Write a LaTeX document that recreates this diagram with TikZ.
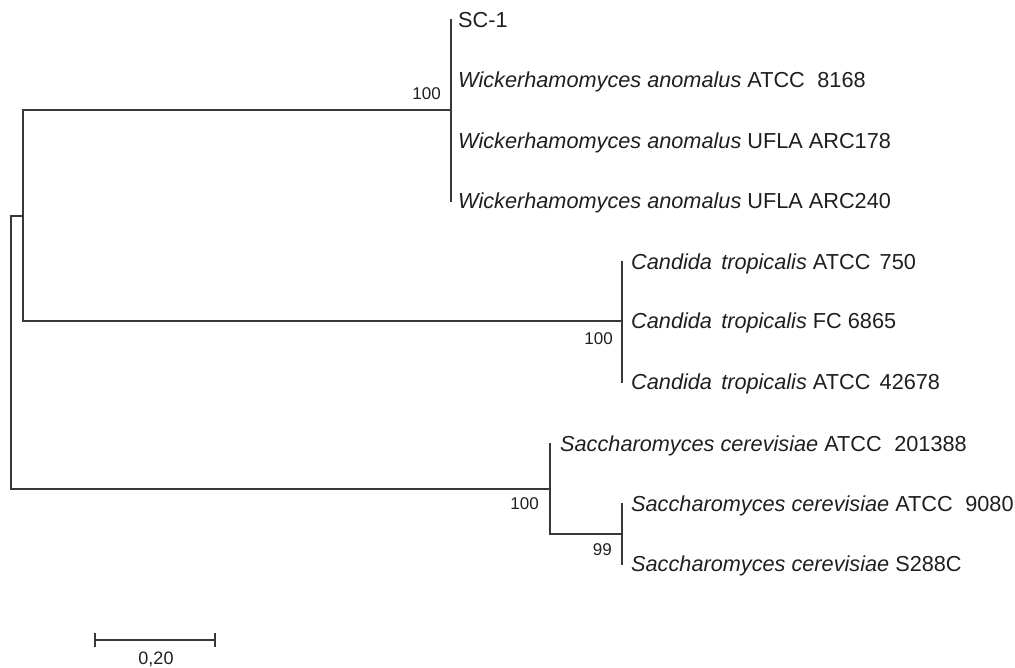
\documentclass[tikz,border=0pt]{standalone}
\usepackage{fontspec}
\setmainfont{Liberation Sans}
\begin{document}
\begin{tikzpicture}[x=1pt,y=-1pt,
  branch/.style={line width=1.7pt, draw=black!78, line cap=rect},
  tiplabel/.style={anchor=base west, inner sep=0pt, font=\fontsize{21.7}{25}\selectfont, text=black!88},
  boot/.style={anchor=base east, inner sep=0pt, font=\fontsize{17}{20}\selectfont, text=black!88},
  scalelab/.style={anchor=base, inner sep=0pt, font=\fontsize{18}{21}\selectfont, text=black!88}]
\useasboundingbox (0,0) rectangle (1015,667);
% tips
\coordinate (t1) at (451,20);
\coordinate (t2) at (451,80);
\coordinate (t3) at (451,141);
\coordinate (t4) at (451,201);
\coordinate (t5) at (622,262);
\coordinate (t6) at (622,321);
\coordinate (t7) at (622,382);
\coordinate (t8) at (550,444);
\coordinate (t9) at (622,504);
\coordinate (t10) at (622,564);
% internal nodes
\coordinate (wick) at (451,110);
\coordinate (cand) at (622,321);
\coordinate (sac) at (550,489);
\coordinate (sac2) at (622,534);
\coordinate (A) at (23,216);
\coordinate (root) at (11,352);
% branches
\draw[branch] (t1) -- (t4);
\draw[branch] (t5) -- (t7);
\draw[branch] (t9) -- (t10);
\draw[branch] (t8) |- (sac2);
\draw[branch] (wick) -| (A) |- (cand);
\draw[branch] (A) -| (root) |- (sac);
% labels
\node[tiplabel] (l1) at ([xshift=7pt,yshift=-7.7pt]t1) {SC-1};
\node[tiplabel] (l2) at ([xshift=7pt,yshift=-7.7pt]t2) {\textit{Wickerhamomyces anomalus} ATCC\hspace{0.3em} 8168};
\node[tiplabel] (l3) at ([xshift=7pt,yshift=-7.7pt]t3) {\textit{Wickerhamomyces anomalus} UFLA ARC178};
\node[tiplabel] (l4) at ([xshift=7pt,yshift=-7.7pt]t4) {\textit{Wickerhamomyces anomalus} UFLA ARC240};
\node[tiplabel] (l5) at ([xshift=9pt,yshift=-7.7pt]t5) {\textit{Candida\hspace{0.15em} tropicalis} ATCC\hspace{0.15em} 750};
\node[tiplabel] (l6) at ([xshift=9pt,yshift=-7.7pt]t6) {\textit{Candida\hspace{0.15em} tropicalis} FC 6865};
\node[tiplabel] (l7) at ([xshift=9pt,yshift=-7.7pt]t7) {\textit{Candida\hspace{0.15em} tropicalis} ATCC\hspace{0.15em} 42678};
\node[tiplabel] (l8) at ([xshift=10pt,yshift=-7.7pt]t8) {\textit{Saccharomyces cerevisiae} ATCC\hspace{0.3em} 201388};
\node[tiplabel] (l9) at ([xshift=9pt,yshift=-7.7pt]t9) {\textit{Saccharomyces cerevisiae} ATCC\hspace{0.3em} 9080};
\node[tiplabel] (l10) at ([xshift=9pt,yshift=-7.7pt]t10) {\textit{Saccharomyces cerevisiae} S288C};
% bootstrap values
\node[boot] (b1) at (441,99) {100};
\node[boot] (b2) at (613,344) {100};
\node[boot] (b3) at (539,509) {100};
\node[boot] (b4) at (612,555) {99};
% scale bar
\coordinate (s1) at (95,640);
\coordinate (s2) at (215,640);
\draw[branch, line cap=butt] (s1) -- (s2);
\draw[branch, line cap=butt] ([yshift=7pt]s1) -- ([yshift=-7pt]s1);
\draw[branch, line cap=butt] ([yshift=7pt]s2) -- ([yshift=-7pt]s2);
\node[scalelab] (sl) at (156,664) {0,20};
\end{tikzpicture}
\end{document}
